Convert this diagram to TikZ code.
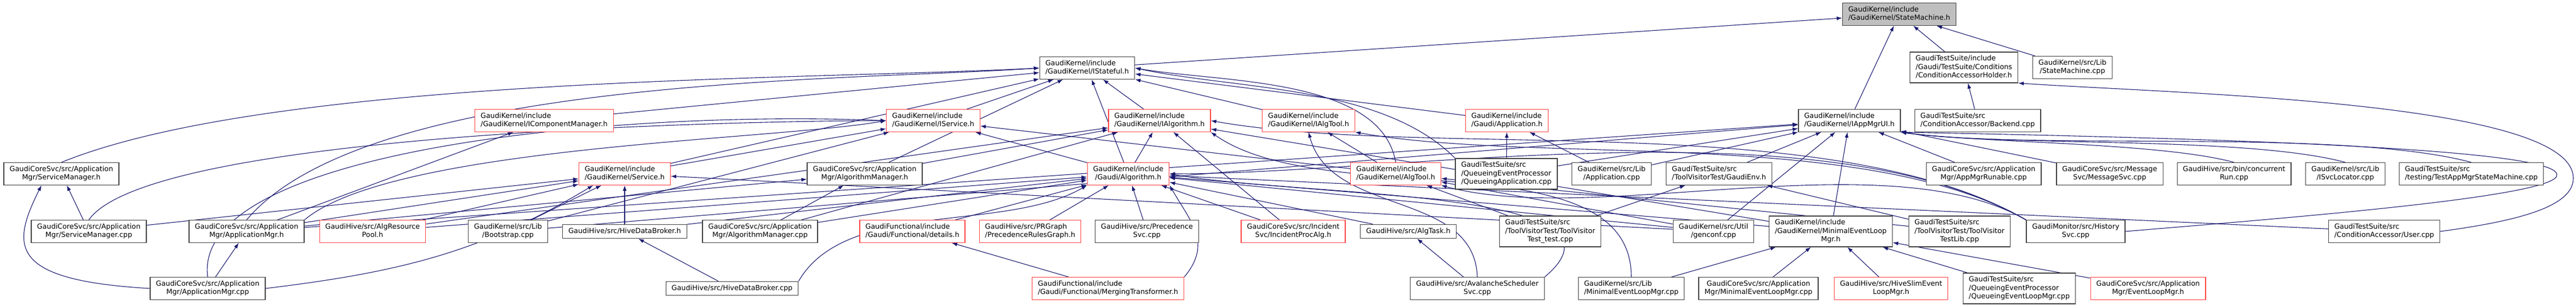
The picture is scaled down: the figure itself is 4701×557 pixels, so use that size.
\documentclass[tikz,border=0pt]{standalone}
\usepackage{fontspec}
\setmainfont{DejaVu Sans}
\usepackage{xcolor}
\usepackage{tikz}
\usetikzlibrary{arrows.meta}
\usetikzlibrary{backgrounds}
\usetikzlibrary{calc}
\definecolor{edgeblue}{HTML}{191970}
\definecolor{boxgray}{HTML}{404040}
\definecolor{boxred}{HTML}{FF4040}
\definecolor{selfill}{HTML}{BFBFBF}
\tikzstyle{filebox}=[rectangle,draw=boxgray,fill=white,line width=1.3pt,inner xsep=10.5pt,inner ysep=5pt,font=\fontsize{12.8}{15.3}\selectfont]
\tikzstyle{redbox}=[filebox,draw=boxred]
\tikzstyle{selbox}=[filebox,fill=selfill]
\tikzstyle{incl}=[draw=edgeblue,line width=1.1pt,->]
\newcommand{\lj}[1]{\multicolumn{1}{@{}l@{}}{#1}}
\newcommand{\lbl}[1]{\begin{tabular}{@{}c@{}}#1\end{tabular}}
\begin{document}
\begin{tikzpicture}[x=1pt,y=1pt,>={Latex[length=10pt,width=7pt]}]

  \useasboundingbox (0,0) rectangle (4701,557);

  \node[selbox] (SM) at (3466,531) {\lbl{\lj{GaudiKernel/include}\\/GaudiKernel/StateMachine.h}};

   \foreach \x/\y/\name/\txt in {1984/433/ISt/{\lj{GaudiKernel/include}\\/GaudiKernel/IStateful.h},
        3584/434/CAH/{\lj{GaudiTestSuite/include}\\\lj{/Gaudi/TestSuite/Conditions}\\/ConditionAccessorHolder.h},
        3782/434/SMcpp/{\lj{GaudiKernel/src/Lib}\\/StateMachine.cpp},
        3375/337/IAM/{\lj{GaudiKernel/include}\\/GaudiKernel/IAppMgrUI.h},
        3609/337/Bk/{\lj{GaudiTestSuite/src}\\/ConditionAccessor/Backend.cpp}}
          \node[filebox] (\name) at (\x,\y) {\lbl{\txt}};

   \foreach \x/\y/\name/\txt in {112/240/SMh/{GaudiCoreSvc/src/Application\\Mgr/ServiceManager.h},
        1578/240/AMh/{GaudiCoreSvc/src/Application\\Mgr/AlgorithmManager.h},
        2749/240/QApp/{\lj{GaudiTestSuite/src}\\\lj{/QueueingEventProcessor}\\/QueueingApplication.cpp},
        2941/240/Appcpp/{\lj{GaudiKernel/src/Lib}\\/Application.cpp},
        3137/240/GEnv/{\lj{GaudiTestSuite/src}\\/ToolVisitorTest/GaudiEnv.h},
        3620/240/AMR/{GaudiCoreSvc/src/Application\\Mgr/AppMgrRunable.cpp},
        3850/240/MS/{GaudiCoreSvc/src/Message\\Svc/MessageSvc.cpp},
        4077/240/CR/{GaudiHive/src/bin/concurrent\\Run.cpp},
        4280/240/ISL/{\lj{GaudiKernel/src/Lib}\\/ISvcLocator.cpp},
        4510/240/TAM/{\lj{GaudiTestSuite/src}\\/testing/TestAppMgrStateMachine.cpp}}
          \node[filebox] (\name) at (\x,\y) {\lbl{\txt}};

   \foreach \x/\y/\name/\txt in {162/135/SMcpp2/{GaudiCoreSvc/src/Application\\Mgr/ServiceManager.cpp},
        450/135/AMgrh/{GaudiCoreSvc/src/Application\\Mgr/ApplicationMgr.h},
        927/135/Boot/{\lj{GaudiKernel/src/Lib}\\/Bootstrap.cpp},
        1140/135/HDBh/{GaudiHive/src/HiveDataBroker.h},
        1387/135/AMcpp/{GaudiCoreSvc/src/Application\\Mgr/AlgorithmManager.cpp},
        2093/135/PSvc/{GaudiHive/src/Precedence\\Svc.cpp},
        2570/135/Task/{GaudiHive/src/AlgTask.h},
        2829/135/TVT/{\lj{GaudiTestSuite/src}\\/ToolVisitorTest/ToolVisitor\\Test\_test.cpp},
        3127/135/Gen/{\lj{GaudiKernel/src/Util}\\/genconf.cpp},
        3341/135/MELh/{\lj{GaudiKernel/include}\\/GaudiKernel/MinimalEventLoop\\Mgr.h},
        3576/135/TVL/{\lj{GaudiTestSuite/src}\\/ToolVisitorTest/ToolVisitor\\TestLib.cpp},
        3788/135/Hist/{GaudiMonitor/src/History\\Svc.cpp},
        4351/135/User/{\lj{GaudiTestSuite/src}\\/ConditionAccessor/User.cpp}}
          \node[filebox] (\name) at (\x,\y) {\lbl{\txt}};

   \foreach \x/\y/\name/\txt in {379/31/AMcppB/{GaudiCoreSvc/src/Application\\Mgr/ApplicationMgr.cpp},
        1336/31/HDBcpp/{GaudiHive/src/HiveDataBroker.cpp},
        2696/31/Aval/{GaudiHive/src/AvalancheScheduler\\Svc.cpp},
        2977/31/MELk/{\lj{GaudiKernel/src/Lib}\\/MinimalEventLoopMgr.cpp},
        3209/31/MELc/{GaudiCoreSvc/src/Application\\Mgr/MinimalEventLoopMgr.cpp},
        3685/31/QEL/{\lj{GaudiTestSuite/src}\\\lj{/QueueingEventProcessor}\\/QueueingEventLoopMgr.cpp}}
          \node[filebox] (\name) at (\x,\y) {\lbl{\txt}};

   % files with more includers than shown
   \foreach \x/\y/\name/\txt in {993/337/ICM/{\lj{GaudiKernel/include}\\/GaudiKernel/IComponentManager.h},
        1703/337/ISv/{\lj{GaudiKernel/include}\\/GaudiKernel/IService.h},
        2116/337/IAlg/{\lj{GaudiKernel/include}\\/GaudiKernel/IAlgorithm.h},
        2388/337/IAT/{\lj{GaudiKernel/include}\\/GaudiKernel/IAlgTool.h},
        2750/337/App/{\lj{GaudiKernel/include}\\/Gaudi/Application.h},
        1140/240/Svc/{\lj{GaudiKernel/include}\\/GaudiKernel/Service.h},
        2059/240/Alg/{\lj{GaudiKernel/include}\\/Gaudi/Algorithm.h},
        2547/240/AT/{\lj{GaudiKernel/include}\\/GaudiKernel/AlgTool.h},
        680/135/ARP/{GaudiHive/src/AlgResource\\Pool.h},
        1665/135/Det/{\lj{GaudiFunctional/include}\\/Gaudi/Functional/details.h},
        1880/135/PRG/{\lj{GaudiHive/src/PRGraph}\\/PrecedenceRulesGraph.h},
        2360/135/IPA/{GaudiCoreSvc/src/Incident\\Svc/IncidentProcAlg.h},
        2022/31/MT/{\lj{GaudiFunctional/include}\\/Gaudi/Functional/MergingTransformer.h},
        3451/31/HSEL/{GaudiHive/src/HiveSlimEvent\\LoopMgr.h},
        3920/31/ELM/{GaudiCoreSvc/src/Application\\Mgr/EventLoopMgr.h}}
          \node[redbox] (\name) at (\x,\y) {\lbl{\txt}};

  \coordinate (histloop) at (4666,239);
  \coordinate (userloop) at (4696,232);

  \begin{pgfonlayer}{background}

  \foreach \source/\dest in {ISt/SM, IAM/SM, CAH/SM, SMcpp/SM, Bk/CAH,
        ICM/ISt, ISv/ISt, IAlg/ISt, IAT/ISt, App/ISt, Svc/ISt, AMh/ISt, Alg/ISt}
         \path[incl] (\source) -- (\dest);

  \foreach \source/\dest in {AMgrh/ICM, Svc/ISv, Alg/ISv, AT/ISv, Boot/ISv,
        AMh/IAlg, ARP/IAlg, Alg/IAlg, AMcpp/IAlg, IPA/IAlg, MELh/IAlg, AT/IAT,
        QApp/App, Appcpp/App, QApp/IAM, Appcpp/IAM, GEnv/IAM, Gen/IAM, MELh/IAM,
        AMR/IAM, MS/IAM, Boot/IAM, AMgrh/IAM}
         \path[incl] (\source) -- (\dest);

  \foreach \source/\dest in {SMcpp2/SMh, AMcppB/AMgrh, SMcpp2/Svc, AMgrh/Svc, ARP/Svc,
        Boot/Svc, HDBh/Svc, Gen/Svc, AMcpp/AMh, AMgrh/AMh,
        Det/Alg, PRG/Alg, PSvc/Alg, IPA/Alg, Task/Alg, HDBh/Alg, AMcpp/Alg, ARP/Alg,
        Gen/Alg, MELh/Alg, User/Alg,
        TVT/AT, TVL/AT, Gen/AT, TVT/GEnv, TVL/GEnv, HDBcpp/HDBh, MT/Det, Aval/Task,
        MELk/MELh, MELc/MELh, HSEL/MELh, QEL/MELh, ELM/MELh}
         \path[incl] (\source) -- (\dest);

  % bent ones: offsets of the two control points
  \foreach \source/\dest/\ax/\ay/\bx/\by in {SMh.north/ISt.west/390/158/-420/-22,
        AMgrh.north/ISt.west/222/264/-344/-24,
        AMcppB.west/SMh.210/-260/15/-55/-110,
        AMcppB.north/ISv.west/-30/230/-500/20,
        AMcppB.east/Svc.200/250/30/-200/-120,
        SMcpp2.north/ISv.west/115/164/-200/0,
        AMgrh.north east/ISv.west/161/135/-207/-36,
        AT.north/ISt.east/-27/156/156/-27,
        QApp.north west/ISt.east/-134/134/186/-40,
        MT.north east/Alg.south east/51/61/40/-69,
        HDBcpp.north east/Alg.south west/87/150/-150/-87,
        Aval.north/IAT.south/-6/159/41/-154,
        Aval.north east/Alg.east/192/161/246/-43,
        MELk.north/IAlg.south east/0/254/208/-146,
        Hist.north west/IAlg.east/-355/205/404/-71,
        Hist.north west/IAT.south east/-293/169/333/-59,
        Hist.north west/Alg.east/-371/214/428/0,
        Hist.north west/AT.south east/-253/146/282/-76,
        CR.north/IAM.south east/-138/37/142/-20,
        ISL.north/IAM.south east/-184/49/189/-27,
        TAM.north/IAM.south east/-237/63/243/-34}
         \path[incl] (\source) .. controls ($(\source)+(\ax,\ay)$) and ($(\dest)+(\bx,\by)$) .. (\dest);

  \path[incl] (Hist.east) .. controls ($(Hist.east)+(300,25)$) and ($(histloop)+(10,-40)$) .. (histloop)
        .. controls ($(histloop)+(-5,50)$) and ($(IAM.south east)+(500,-10)$) .. (IAM.south east);
  \path[incl] (User.east) .. controls ($(User.east)+(150,20)$) and ($(userloop)+(0,-50)$) .. (userloop)
        .. controls ($(userloop)+(0,140)$) and ($(CAH.south east)+(300,-20)$) .. (CAH.south east);

  \end{pgfonlayer}

\end{tikzpicture}
\end{document}
